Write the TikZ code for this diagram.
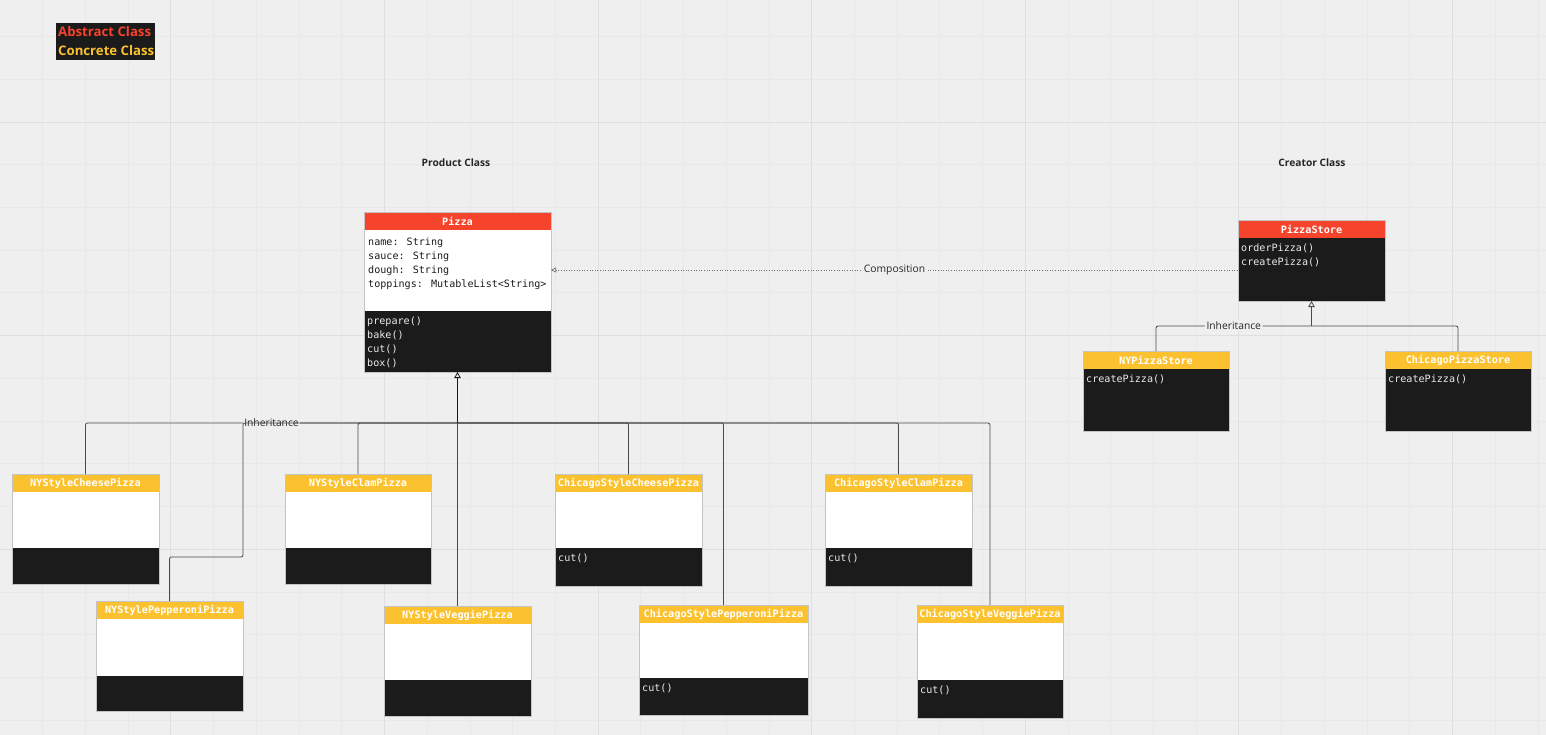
\documentclass[tikz,border=0pt]{standalone}
\usepackage{fontspec}
\setmainfont{Open Sans}
\newfontfamily\codefont{DejaVu Sans Mono}
\usetikzlibrary{arrows.meta,calc}

\definecolor{canvas}{HTML}{EFEFEF}
\definecolor{gridminor}{HTML}{E8E8E8}
\definecolor{gridmajor}{HTML}{DFDFDF}
\definecolor{abstractred}{HTML}{F5432C}
\definecolor{concreteyellow}{HTML}{FCC12E}
\definecolor{panel}{HTML}{1B1B1B}
\definecolor{wire}{HTML}{4A4A4A}
\definecolor{edge}{HTML}{C4C4C4}

\tikzset{
  classframe/.style={anchor=north west, inner sep=0pt, outer sep=0pt, draw=none},
  classedge/.style={draw=edge, line width=0.5pt},
  titletext/.style={text=white, inner sep=0pt, font=\codefont\bfseries\fontsize{10.2}{12}\selectfont},
  fieldtext/.style={anchor=north west, inner sep=0pt, align=left, text=panel,
    font=\codefont\fontsize{10.1}{14}\selectfont},
  methodtext/.style={fieldtext, text=white!92!black},
  inh/.style={draw=wire, line width=0.8pt, rounded corners=2pt},
  trunk/.style={draw=black!90, line width=1.5pt,
    -{Triangle[open, length=6pt, width=6.5pt, line width=0.8pt]}},
  thintrunk/.style={draw=wire, line width=0.8pt,
    -{Triangle[open, length=6pt, width=6.5pt, line width=0.8pt]}},
  comp/.style={draw=black!55, line width=0.9pt, dash pattern=on 1pt off 1.6pt,
    -{Triangle[open, length=5pt, width=5pt, line width=0.7pt]}},
  lbl/.style={fill=canvas, inner sep=1.5pt, text=black!85, font=\fontsize{10.3}{12}\selectfont},
  heading/.style={inner sep=0pt, text=black!85, font=\bfseries\fontsize{10.2}{12}\selectfont},
  legendtext/.style={anchor=west, inner sep=0pt, font=\bfseries\fontsize{13.2}{15}\selectfont},
}

% #1 name, #2 left, #3 top, #4 width, #5 field height, #6 method height,
% #7 title, #8 fields, #9 methods; header colour comes from \headcolour
\newcommand\classbox[9]{%
  \node[classframe, minimum width=#4pt, minimum height={18pt+#5pt+#6pt}] (#1) at (#2,#3) {};
  \fill[\headcolour] (#1.north west) rectangle ($(#1.north east)+(0,-18pt)$);
  \fill[white] ($(#1.north west)+(0,-18pt)$) rectangle ($(#1.north east)+(0,-18pt-#5pt)$);
  \fill[panel] ($(#1.north west)+(0,-18pt-#5pt)$) rectangle (#1.south east);
  \draw[classedge] (#1.north west) rectangle (#1.south east);
  \node[titletext] (#1-title) at ($(#1.north)+(0,-9.5pt)$) {#7};
  \node[fieldtext] (#1-fields) at ($(#1.north west)+(4pt,-26pt)$) {#8};
  \node[methodtext] (#1-methods) at ($(#1.north west)+(3pt,-24pt-#5pt)$) {#9};
}

\begin{document}
\begin{tikzpicture}[x=1pt, y=-1pt]
  % canvas and grid
  \useasboundingbox (0,0) rectangle (1546,735);
  \fill[canvas] (0,0) rectangle (1546,735);
  \foreach \k in {1,...,36}
    \draw[gridminor, line width=0.8pt] (42.72*\k,0) -- (42.72*\k,735);
  \foreach \k in {0,...,16}
    \draw[gridminor, line width=0.8pt] (0,36.56+42.72*\k) -- (1546,36.56+42.72*\k);
  \foreach \k in {0,...,6}
    \draw[gridmajor, line width=0.9pt] (170.8+213.6*\k,0) -- (170.8+213.6*\k,735);
  \foreach \k in {0,...,2}
    \draw[gridmajor, line width=0.9pt] (0,122+213.6*\k) -- (1546,122+213.6*\k);

  % legend
  \node[anchor=north west, fill=panel, minimum width=99pt, minimum height=37pt, inner sep=0pt] (legend) at (56,23) {};
  \node[legendtext, text=abstractred] (legend-abstract) at (58,32) {Abstract Class};
  \node[legendtext, text=concreteyellow] (legend-concrete) at (58,51) {Concrete Class};

  % headings
  \node[heading] (product-heading) at (456,163) {Product Class};
  \node[heading] (creator-heading) at (1312,163) {Creator Class};

  % abstract classes
  \def\headcolour{abstractred}
  \classbox{pizza}{364}{212}{187}{81}{61}{Pizza}
    {name: String\\sauce: String\\dough: String\\toppings: MutableList<String>}
    {prepare()\\bake()\\cut()\\box()}
  \classbox{store}{1238}{220}{147}{0}{63}{PizzaStore}{}{orderPizza()\\createPizza()}

  % concrete classes
  \def\headcolour{concreteyellow}
  \classbox{nystore}{1083}{351}{146}{0}{62}{NYPizzaStore}{}{createPizza()}
  \classbox{chistore}{1385}{351}{146}{0}{62}{ChicagoPizzaStore}{}{createPizza()}
  \classbox{nycheese}{12}{474}{147}{56}{36}{NYStyleCheesePizza}{}{}
  \classbox{nyclam}{285}{474}{146}{56}{36}{NYStyleClamPizza}{}{}
  \classbox{chicheese}{555}{474}{147}{56}{38}{ChicagoStyleCheesePizza}{}{cut()}
  \classbox{chiclam}{825}{474}{147}{56}{38}{ChicagoStyleClamPizza}{}{cut()}
  \classbox{nypep}{96}{601}{147}{57}{35}{NYStylePepperoniPizza}{}{}
  \classbox{nyveg}{384}{606}{147}{56}{36}{NYStyleVeggiePizza}{}{}
  \classbox{chipep}{639}{605}{169}{55}{37}{ChicagoStylePepperoniPizza}{}{cut()}
  \classbox{chiveg}{917}{605}{146}{57}{38}{ChicagoStyleVeggiePizza}{}{cut()}

  % composition between creator and product
  \draw[comp] ($(store.north west)+(0,-50pt)$) -- node[lbl] (comp-label) {Composition}
    ($(pizza.north east)+(0,-58pt)$);

  % product inheritance tree
  \coordinate (pizza-hub) at (pizza.south |- 0,423);
  \draw[inh] (pizza-hub) -| (nycheese.north);
  \draw[inh] (pizza-hub) -| (nyclam.north);
  \draw[inh] (pizza-hub) -| (nyveg.north);
  \draw[inh] (pizza-hub) -| (chicheese.north);
  \draw[inh] (pizza-hub) -| (chipep.north);
  \draw[inh] (pizza-hub) -| (chiclam.north);
  \draw[inh] (pizza-hub) -| (chiveg.north);
  \path (pizza-hub) -| node[lbl, pos=0.25] (product-inh-label) {Inheritance} (nycheese.north);
  \draw[inh] (pizza-hub) -| (243,557) -| (nypep.north);
  \draw[trunk] (pizza-hub) -- (pizza.south);

  % creator inheritance tree
  \coordinate (store-hub) at (store.south |- 0,326);
  \draw[inh] (store-hub) -| node[lbl, pos=0.25] (creator-inh-label) {Inheritance} (nystore.north);
  \draw[inh] (store-hub) -| (chistore.north);
  \draw[thintrunk] (store-hub) -- (store.south);
\end{tikzpicture}
\end{document}
